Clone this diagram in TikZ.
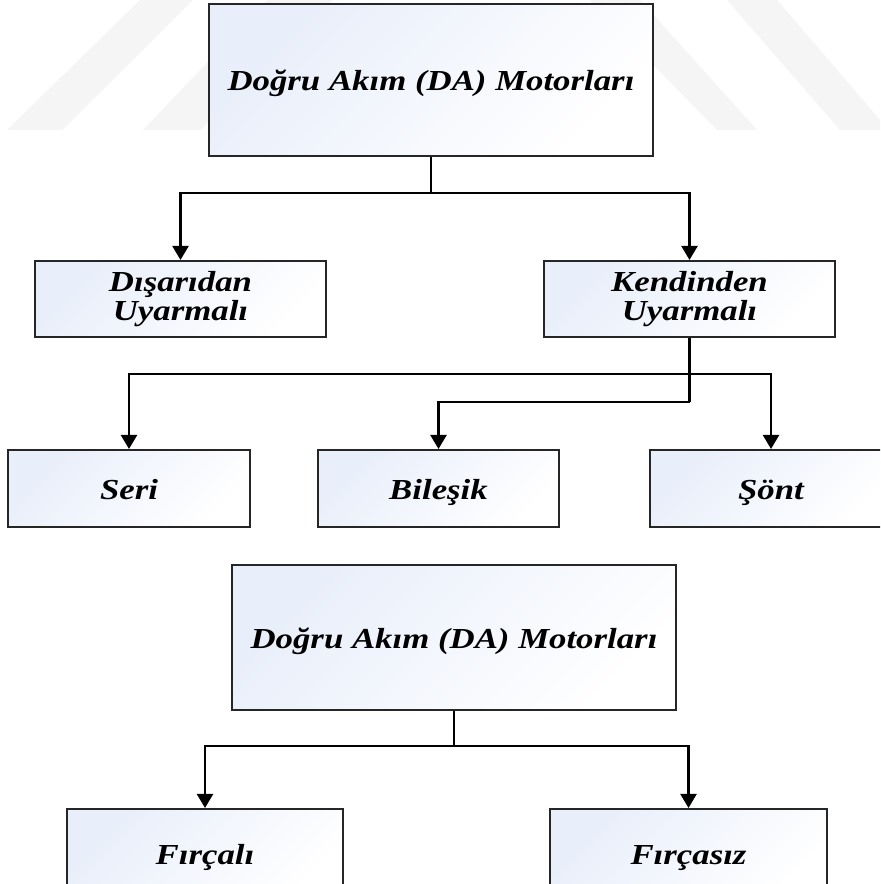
\documentclass[tikz,border=0pt]{standalone}
\usepackage{fontspec}
\setmainfont{Liberation Serif}
\newfontfamily\boxfont[FakeStretch=1.2]{Liberation Serif}
\usetikzlibrary{arrows.meta}
\definecolor{boxblue}{RGB}{232,238,250}
\definecolor{wm}{RGB}{245,245,245}
\tikzset{
  box/.style={draw=black!85, line width=1.1pt, top color=boxblue, middle color=white!85!boxblue, bottom color=white, shading angle=45,
    inner sep=0pt, align=center, font=\boxfont\fontsize{16.5}{16.5}\selectfont\bfseries\itshape},
  one/.style={text height=12pt, text depth=0pt},
  conn/.style={line width=1.6pt, -{Triangle[width=9pt,length=8pt]}},
  plain/.style={line width=1.6pt}
}
\begin{document}
\begin{tikzpicture}[x=0.02cm, y=-0.02cm]
\clip (0,0) rectangle (880,884);
\fill[white] (0,0) rectangle (880,884);
% watermark bands
\fill[wm] (7,130) -- (62,130) -- (193,0) -- (140,0) -- cycle;
\fill[wm] (143,130) -- (200,130) -- (333,0) -- (267,0) -- cycle;
\fill[wm] (717,130) -- (757,130) -- (640,0) -- (590,0) -- cycle;
\fill[wm] (840,130) -- (880,130) -- (880,120) -- (777,0) -- (727,0) -- cycle;
% first tree
\node[box, one, minimum width=444*0.02cm, minimum height=152*0.02cm] (top) at (431,80) {Doğru Akım (DA) Motorları};
\node[box, minimum width=291*0.02cm, minimum height=76*0.02cm] (dis) at (180.5,299) {Dışarıdan\\Uyarmalı};
\node[box, minimum width=291*0.02cm, minimum height=76*0.02cm] (kend) at (689.5,299) {Kendinden\\Uyarmalı};
\node[box, one, minimum width=242*0.02cm, minimum height=77*0.02cm] (seri) at (129,488.5) {Seri};
\node[box, one, minimum width=241*0.02cm, minimum height=77*0.02cm] (bil) at (438.5,488.5) {Bileşik};
\node[box, one, minimum width=242*0.02cm, minimum height=77*0.02cm] (sont) at (771,488.5) {Şönt};
\coordinate (h1) at (0,193);
\coordinate (h2) at (0,374);
\coordinate (h3) at (0,402);
\draw[plain] (top.south) -- (top.south |- h1);
\draw[conn] (top.south |- h1) -| (dis.north);
\draw[conn] (top.south |- h1) -| (kend.north);
\draw[plain] (kend.south) -- (kend.south |- h3);
\draw[conn] (kend.south |- h2) -| (seri.north);
\draw[conn] (kend.south |- h2) -| (sont.north);
\draw[conn] (kend.south |- h3) -| (bil.north);
% second tree
\node[box, one, minimum width=444*0.02cm, minimum height=145*0.02cm] (top2) at (454,637.5) {Doğru Akım (DA) Motorları};
\node[box, one, minimum width=276*0.02cm, minimum height=90*0.02cm] (fir) at (205,854) {Fırçalı};
\node[box, one, minimum width=277*0.02cm, minimum height=90*0.02cm] (firz) at (688.5,854) {Fırçasız};
\coordinate (h4) at (0,746);
\draw[plain] (top2.south) -- (top2.south |- h4);
\draw[conn] (top2.south |- h4) -| (fir.north);
\draw[conn] (top2.south |- h4) -| (firz.north);
\end{tikzpicture}
\end{document}
